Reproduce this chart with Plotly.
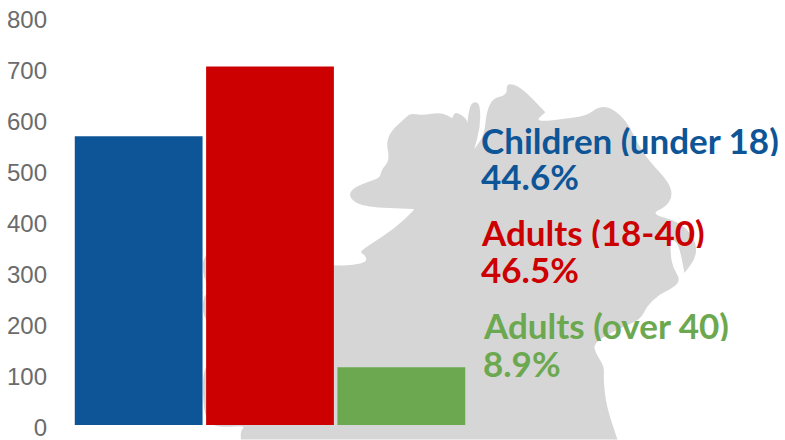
import plotly.graph_objects as go

# Age groups, bar heights, and the share printed next to each group
groups = ["Children (under 18)", "Adults (18-40)", "Adults (over 40)"]
counts = [566, 703, 113]
shares = ["44.6%", "46.5%", "8.9%"]
colors = ["#0D5597", "#CC0000", "#6BA84F"]
y_ticks = [0, 100, 200, 300, 400, 500, 600, 700, 800]

W, H = 785, 440
M_L, M_R, M_T, M_B = 73.25, 318.25, 16.5, 14.5

# Backdrop state silhouette, outlined in page pixels; repeated points keep a corner sharp
state_outline = [
    (241, 440), (240, 432), (246, 426), (222, 428), (208, 424), (203, 405), (203, 368),
    (215, 360), (215, 330), (203, 318), (203, 295), (215, 290), (203, 280), (203, 250),
    (260, 230), (320, 262), (334, 266), (353.5, 265), (367, 262), (365, 255), (359, 252),
    (372.5, 243), (395, 228), (412, 212), (414, 209), (414, 209), (388, 208), (369, 207), (355, 203),
    (348.5, 195), (353.5, 188), (367, 182), (380, 178), (381, 170), (389.6, 160), (386, 142),
    (391.5, 130), (405, 118), (410, 113), (422, 115), (441, 112), (452, 118), (452, 118), (455, 111),
    (466, 118), (467, 123), (467, 123), (469.5, 105), (475, 101), (480, 105), (480, 127), (474, 149), (474, 149),
    (484, 135), (486, 113), (492, 98), (507, 95), (506, 82), (521, 87), (545, 112), (545, 112),
    (534, 122), (570, 118), (587, 115), (599, 106), (612, 108), (627, 122), (637, 143),
    (648, 160), (669, 183), (672, 197), (665, 207), (650, 214), (680, 222), (695, 240),
    (696, 257), (684, 273), (684, 273), (678, 243), (670, 239), (670, 253), (672, 267), (680, 280),
    (673, 288), (658, 295), (646, 307), (640, 320), (620, 328), (593, 343), (595, 353),
    (604, 367), (603, 380), (606, 407), (617, 440),
]

fx = lambda px: (px - M_L) / (W - M_L - M_R)
fy = lambda py: 1 - (py - M_T) / (H - M_T - M_B)


def outline_path(points):
    # Round the outline by curving through the midpoints of its segments
    pts = [(fx(a), fy(b)) for a, b in points]
    d = f"M{pts[0][0]:.5f},{pts[0][1]:.5f}"
    for i in range(1, len(pts) - 1):
        mx = (pts[i][0] + pts[i + 1][0]) / 2
        my = (pts[i][1] + pts[i + 1][1]) / 2
        d += f" Q{pts[i][0]:.5f},{pts[i][1]:.5f} {mx:.5f},{my:.5f}"
    d += f" L{pts[-1][0]:.5f},{pts[-1][1]:.5f} Z"
    return d


fig = go.Figure(
    go.Bar(x=groups, y=counts, marker=dict(color=colors, line_width=0), showlegend=False)
)

# Group name and share stacked beside the bars
label_font = "Lato, sans-serif"
label_rows = [(480, 140, 176), (480, 232, 269), (482, 325, 363)]
annotations = []
for group, share, color, (px, y1, y2) in zip(groups, shares, colors, label_rows):
    for text, py in ((group, y1), (share, y2)):
        annotations.append(dict(
            text=f"<b>{text}</b>", xref="paper", yref="paper", x=fx(px), y=fy(py),
            xanchor="left", yanchor="middle", showarrow=False, height=32, borderpad=0,
            font=dict(family=label_font, size=35, color=color),
        ))

fig.update_layout(
    width=W, height=H,
    margin=dict(l=M_L, r=M_R, t=M_T, b=M_B, pad=0, autoexpand=False),
    paper_bgcolor="white", plot_bgcolor="rgba(0,0,0,0)",
    bargap=0.027,
    shapes=[dict(type="path", path=outline_path(state_outline), xref="paper", yref="paper",
                 fillcolor="#D6D6D6", line_width=0, layer="below")],
    annotations=annotations,
    xaxis=dict(showticklabels=False, showgrid=False, zeroline=False, showline=False, ticks=""),
    yaxis=dict(
        range=[0, 800], tickvals=y_ticks, showgrid=False, zeroline=False, showline=False,
        ticks="", ticklabelstandoff=25, ticklabelshift=3, ticklabeloverflow="allow",
        tickfont=dict(family="Liberation Sans, Arial, sans-serif", size=24, color="#6B6B6B"),
    ),
)

fig.write_html("out.html")
